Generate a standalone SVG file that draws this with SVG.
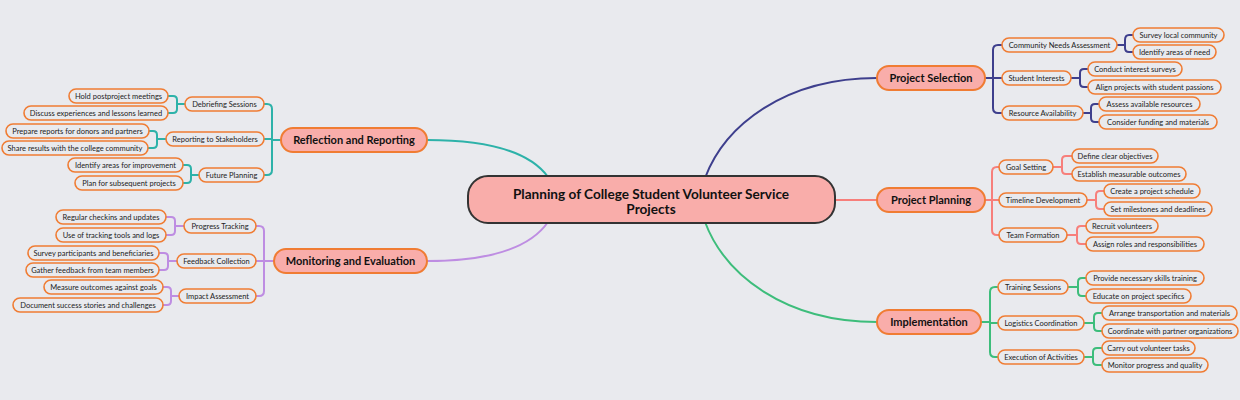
<svg xmlns="http://www.w3.org/2000/svg" width="1240" height="400" viewBox="0 0 1240 400">
<style>
.bg{fill:#E9EAEE}
.c{fill:none;stroke-width:2;stroke-linecap:round;stroke-linejoin:round}
.ps{stroke:#3E3F8D}.pp{stroke:#F77F7B}.im{stroke:#3DBD7B}.rr{stroke:#2DB2A9}.me{stroke:#BE8DE2}
.root rect{fill:#F9ADAA;stroke:#333;stroke-width:2}
.root text{font-family:Lato,"Liberation Sans",sans-serif;font-weight:bold;font-size:13.6px;fill:#111;text-anchor:middle}
.main rect{fill:#F9ADAA;stroke:#F07C33;stroke-width:2}
.main text{font-family:Lato,"Liberation Sans",sans-serif;font-weight:bold;font-size:11px;fill:#111;text-anchor:middle}
.n rect{fill:#E9EAEE;stroke:#F07C33;stroke-width:1.6}
.n text{font-family:Lato,"Liberation Sans",sans-serif;font-size:7.5px;fill:#222;text-anchor:middle}
</style>
<rect class="bg" x="0" y="0" width="1240" height="400"/>
<g id="connectors">
<path class="c ps" d="M705,178 C725,125 785,78 877,78"/>
<path class="c pp" d="M835,200 H877"/>
<path class="c im" d="M705,222 C725,275 785,322 877,322"/>
<path class="c rr" d="M548,177 C530,152 490,140 427,140"/>
<path class="c me" d="M548,222 C530,248 490,261 427,261"/>
<!-- PS -->
<path class="c ps" d="M985,78 H993 M993,78 V50 Q993,45 998,45 H1002 M993,78 H1002 M993,78 V108 Q993,113 998,113 H1002"/>
<path class="c ps" d="M1117,45 H1125 V40 Q1125,35 1129,35 H1133 M1125,45 V48 Q1125,52 1129,52 H1133"/>
<path class="c ps" d="M1071,78 H1080 V73 Q1080,69 1084,69 H1088 M1080,78 V83 Q1080,87 1084,87 H1088"/>
<path class="c ps" d="M1083,113 H1091 V108 Q1091,104 1095,104 H1099 M1091,113 V118 Q1091,122 1095,122 H1099"/>
<!-- PP -->
<path class="c pp" d="M985,200 H992 M992,200 V172 Q992,167 997,167 H999 M992,200 H999 M992,200 V230 Q992,235 997,235 H999"/>
<path class="c pp" d="M1053,167 H1062 V160 Q1062,156 1066,156 H1072 M1062,167 V170 Q1062,174 1066,174 H1072"/>
<path class="c pp" d="M1087,200 H1096 V195 Q1096,191 1100,191 H1104 M1096,200 V205 Q1096,209 1100,209 H1104"/>
<path class="c pp" d="M1067,235 H1077 V230 Q1077,226 1081,226 H1086 M1077,235 V240 Q1077,244 1081,244 H1086"/>
<!-- IM -->
<path class="c im" d="M981,322 H990 M990,322 V292 Q990,287 995,287 H998 M990,322 V323 H998 M990,322 V352 Q990,357 995,357 H998"/>
<path class="c im" d="M1068,287 H1078 V282 Q1078,278 1082,278 H1086 M1078,287 V292 Q1078,296 1082,296 H1086"/>
<path class="c im" d="M1084,323 H1094 V317 Q1094,313 1098,313 H1102 M1094,323 V327 Q1094,331 1098,331 H1102"/>
<path class="c im" d="M1084,357 H1093 V352 Q1093,348 1097,348 H1102 M1093,357 V361 Q1093,365 1097,365 H1102"/>
<!-- RR -->
<path class="c rr" d="M281,140 H272 M272,140 V109 Q272,104 267,104 H264 M272,140 V139 H264 M272,140 V170 Q272,175 267,175 H264"/>
<path class="c rr" d="M185,104 H177 V100 Q177,96 173,96 H168 M177,104 V109 Q177,113 173,113 H168"/>
<path class="c rr" d="M166,139 H157 V135 Q157,131 153,131 H149 M157,139 V144 Q157,148 153,148 H148"/>
<path class="c rr" d="M199,175 H191 V169 Q191,165 187,165 H183 M191,175 V179 Q191,183 187,183 H183"/>
<!-- ME -->
<path class="c me" d="M274,261 H264 M264,261 V231 Q264,226 259,226 H256 M264,261 H256 M264,261 V291 Q264,296 259,296 H256"/>
<path class="c me" d="M184,226 H175 V221 Q175,217 171,217 H166 M175,226 V231 Q175,235 171,235 H166"/>
<path class="c me" d="M177,261 H168 V257 Q168,253 164,253 H159 M168,261 V266 Q168,270 164,270 H159"/>
<path class="c me" d="M179,296 H171 V291 Q171,287 167,287 H163 M171,296 V301 Q171,305 167,305 H163"/>
</g>
<g id="root" class="root"><rect x="468" y="176" width="367" height="47" rx="20"/><text x="651" y="199">Planning of College Student Volunteer Service</text><text x="651" y="214">Projects</text></g>
<g id="project-selection" class="main"><rect x="877" y="66" width="108" height="24" rx="12"/><text x="931" y="82">Project Selection</text></g>
<g id="project-planning" class="main"><rect x="877" y="188" width="108" height="24" rx="12"/><text x="931" y="204">Project Planning</text></g>
<g id="implementation" class="main"><rect x="877" y="310" width="104" height="24" rx="12"/><text x="929" y="326">Implementation</text></g>
<g id="reflection-reporting" class="main"><rect x="281" y="128" width="146" height="24" rx="12"/><text x="354" y="144">Reflection and Reporting</text></g>
<g id="monitoring-evaluation" class="main"><rect x="274" y="249" width="153" height="24" rx="12"/><text x="350.5" y="265">Monitoring and Evaluation</text></g>
<g id="community-needs" class="n"><rect x="1002" y="38" width="115" height="14" rx="7"/><text x="1059.5" y="47.7">Community Needs Assessment</text></g>
<g id="student-interests" class="n"><rect x="1002" y="71" width="69" height="14" rx="7"/><text x="1036.5" y="80.7">Student Interests</text></g>
<g id="resource-availability" class="n"><rect x="1002" y="106" width="81" height="14" rx="7"/><text x="1042.5" y="115.7">Resource Availability</text></g>
<g id="survey-local" class="n"><rect x="1133" y="28" width="91" height="14" rx="7"/><text x="1178.5" y="37.7">Survey local community</text></g>
<g id="identify-need" class="n"><rect x="1133" y="45" width="83" height="14" rx="7"/><text x="1174.5" y="54.7">Identify areas of need</text></g>
<g id="conduct-surveys" class="n"><rect x="1088" y="62" width="94" height="14" rx="7"/><text x="1135" y="71.7">Conduct interest surveys</text></g>
<g id="align-projects" class="n"><rect x="1088" y="80" width="133" height="14" rx="7"/><text x="1154.5" y="89.7">Align projects with student passions</text></g>
<g id="assess-resources" class="n"><rect x="1099" y="97" width="101" height="14" rx="7"/><text x="1149.5" y="106.7">Assess available resources</text></g>
<g id="consider-funding" class="n"><rect x="1099" y="115" width="118" height="14" rx="7"/><text x="1158" y="124.7">Consider funding and materials</text></g>
<g id="goal-setting" class="n"><rect x="999" y="160" width="54" height="14" rx="7"/><text x="1026" y="169.7">Goal Setting</text></g>
<g id="timeline-development" class="n"><rect x="999" y="193" width="88" height="14" rx="7"/><text x="1043" y="202.7">Timeline Development</text></g>
<g id="team-formation" class="n"><rect x="999" y="228" width="68" height="14" rx="7"/><text x="1033" y="237.7">Team Formation</text></g>
<g id="define-objectives" class="n"><rect x="1072" y="149" width="86" height="14" rx="7"/><text x="1115" y="158.7">Define clear objectives</text></g>
<g id="establish-outcomes" class="n"><rect x="1072" y="167" width="114" height="14" rx="7"/><text x="1129" y="176.7">Establish measurable outcomes</text></g>
<g id="create-schedule" class="n"><rect x="1104" y="184" width="96" height="14" rx="7"/><text x="1152" y="193.7">Create a project schedule</text></g>
<g id="set-milestones" class="n"><rect x="1104" y="202" width="108" height="14" rx="7"/><text x="1158" y="211.7">Set milestones and deadlines</text></g>
<g id="recruit-volunteers" class="n"><rect x="1086" y="219" width="72" height="14" rx="7"/><text x="1122" y="228.7">Recruit volunteers</text></g>
<g id="assign-roles" class="n"><rect x="1086" y="237" width="118" height="14" rx="7"/><text x="1145" y="246.7">Assign roles and responsibilities</text></g>
<g id="training-sessions" class="n"><rect x="998" y="280" width="70" height="14" rx="7"/><text x="1033" y="289.7">Training Sessions</text></g>
<g id="logistics-coordination" class="n"><rect x="998" y="316" width="86" height="14" rx="7"/><text x="1041" y="325.7">Logistics Coordination</text></g>
<g id="execution-activities" class="n"><rect x="998" y="350" width="86" height="14" rx="7"/><text x="1041" y="359.7">Execution of Activities</text></g>
<g id="provide-training" class="n"><rect x="1086" y="271" width="118" height="14" rx="7"/><text x="1145" y="280.7">Provide necessary skills training</text></g>
<g id="educate-specifics" class="n"><rect x="1086" y="289" width="105" height="14" rx="7"/><text x="1138.5" y="298.7">Educate on project specifics</text></g>
<g id="arrange-transport" class="n"><rect x="1102" y="306" width="135" height="14" rx="7"/><text x="1169.5" y="315.7">Arrange transportation and materials</text></g>
<g id="coordinate-partners" class="n"><rect x="1102" y="324" width="136" height="14" rx="7"/><text x="1170" y="333.7">Coordinate with partner organizations</text></g>
<g id="carry-out-tasks" class="n"><rect x="1102" y="341" width="93" height="14" rx="7"/><text x="1148.5" y="350.7">Carry out volunteer tasks</text></g>
<g id="monitor-progress" class="n"><rect x="1102" y="358" width="106" height="14" rx="7"/><text x="1155" y="367.7">Monitor progress and quality</text></g>
<g id="debriefing-sessions" class="n"><rect x="185" y="97" width="79" height="14" rx="7"/><text x="224.5" y="106.7">Debriefing Sessions</text></g>
<g id="reporting-stakeholders" class="n"><rect x="166" y="132" width="98" height="14" rx="7"/><text x="215" y="141.7">Reporting to Stakeholders</text></g>
<g id="future-planning" class="n"><rect x="199" y="168" width="65" height="14" rx="7"/><text x="231.5" y="177.7">Future Planning</text></g>
<g id="hold-meetings" class="n"><rect x="69" y="89" width="99" height="14" rx="7"/><text x="118.5" y="98.7">Hold postproject meetings</text></g>
<g id="discuss-experiences" class="n"><rect x="24" y="106" width="144" height="14" rx="7"/><text x="96" y="115.7">Discuss experiences and lessons learned</text></g>
<g id="prepare-reports" class="n"><rect x="6" y="124" width="143" height="14" rx="7"/><text x="77.5" y="133.7">Prepare reports for donors and partners</text></g>
<g id="share-results" class="n"><rect x="2" y="141" width="146" height="14" rx="7"/><text x="75" y="150.7">Share results with the college community</text></g>
<g id="identify-improvement" class="n"><rect x="68" y="158" width="115" height="14" rx="7"/><text x="125.5" y="167.7">Identify areas for improvement</text></g>
<g id="plan-subsequent" class="n"><rect x="75" y="176" width="108" height="14" rx="7"/><text x="129" y="185.7">Plan for subsequent projects</text></g>
<g id="progress-tracking" class="n"><rect x="184" y="219" width="72" height="14" rx="7"/><text x="220" y="228.7">Progress Tracking</text></g>
<g id="feedback-collection" class="n"><rect x="177" y="254" width="79" height="14" rx="7"/><text x="216.5" y="263.7">Feedback Collection</text></g>
<g id="impact-assessment" class="n"><rect x="179" y="289" width="77" height="14" rx="7"/><text x="217.5" y="298.7">Impact Assessment</text></g>
<g id="regular-checkins" class="n"><rect x="56" y="210" width="110" height="14" rx="7"/><text x="111" y="219.7">Regular checkins and updates</text></g>
<g id="tracking-tools" class="n"><rect x="56" y="228" width="110" height="14" rx="7"/><text x="111" y="237.7">Use of tracking tools and logs</text></g>
<g id="survey-participants" class="n"><rect x="28" y="246" width="131" height="14" rx="7"/><text x="93.5" y="255.7">Survey participants and beneficiaries</text></g>
<g id="gather-feedback" class="n"><rect x="26" y="263" width="133" height="14" rx="7"/><text x="92.5" y="272.7">Gather feedback from team members</text></g>
<g id="measure-outcomes" class="n"><rect x="44" y="280" width="119" height="14" rx="7"/><text x="103.5" y="289.7">Measure outcomes against goals</text></g>
<g id="document-stories" class="n"><rect x="13" y="298" width="150" height="14" rx="7"/><text x="88" y="307.7">Document success stories and challenges</text></g>
</svg>
